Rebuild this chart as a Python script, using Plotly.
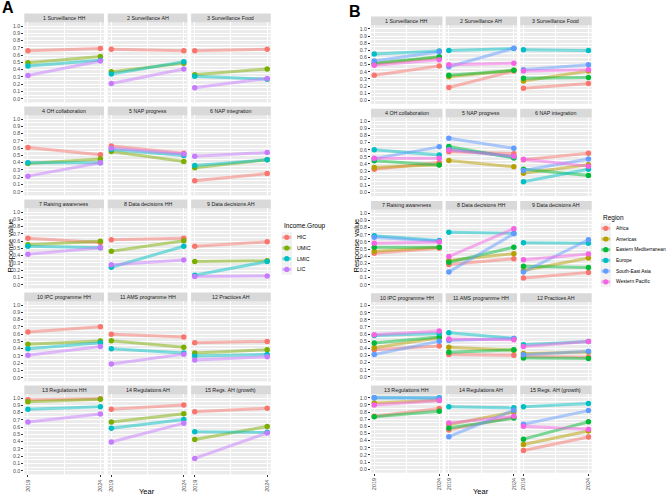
import plotly.graph_objects as go

W, H = 669, 496

facet_titles = ["1 Surveillance HH", "2 Surveillance AH", "3 Surveillance Food",
                "4 OH collaboration", "5 NAP progress", "6 NAP integration",
                "7 Raising awareness", "8 Data decisions HH", "9 Data decisions AH",
                "10 IPC programme HH", "11 AMS programme HH", "12 Practices AH",
                "13 Regulations HH", "14 Regulations AH", "15 Regs. AH (growth)"]
years = [2019, 2024]
y_ticks = [0.0, 0.1, 0.2, 0.3, 0.4, 0.5, 0.6, 0.7, 0.8, 0.9, 1.0]

# ---- Panel A: Income group ----
income_groups = ["HIC", "UMIC", "LMIC", "LIC"]
income_colors = ["#F8766D", "#7CAE00", "#00BFC4", "#C77CFF"]
hic_2019 = [0.66, 0.68, 0.66, 0.61, 0.63, 0.15, 0.64, 0.62, 0.53, 0.63, 0.60, 0.48, 0.975, 0.845, 0.81]
hic_2024 = [0.69, 0.66, 0.68, 0.51, 0.53, 0.25, 0.58, 0.64, 0.59, 0.70, 0.56, 0.50, 0.99, 0.905, 0.86]
umic_2019 = [0.495, 0.37, 0.33, 0.39, 0.555, 0.33, 0.55, 0.46, 0.32, 0.46, 0.51, 0.34, 0.95, 0.67, 0.43]
umic_2024 = [0.58, 0.49, 0.41, 0.45, 0.415, 0.44, 0.60, 0.605, 0.33, 0.505, 0.42, 0.385, 0.985, 0.785, 0.61]
lmic_2019 = [0.45, 0.34, 0.31, 0.40, 0.58, 0.36, 0.53, 0.24, 0.13, 0.40, 0.40, 0.30, 0.845, 0.585, 0.535]
lmic_2024 = [0.53, 0.51, 0.27, 0.40, 0.50, 0.44, 0.51, 0.53, 0.32, 0.48, 0.34, 0.32, 0.88, 0.705, 0.53]
lic_2019 = [0.32, 0.21, 0.15, 0.215, 0.60, 0.49, 0.42, 0.275, 0.115, 0.31, 0.19, 0.245, 0.67, 0.395, 0.17]
lic_2024 = [0.52, 0.41, 0.28, 0.40, 0.52, 0.54, 0.51, 0.34, 0.12, 0.43, 0.325, 0.29, 0.78, 0.655, 0.52]
income_values = [(hic_2019, hic_2024), (umic_2019, umic_2024), (lmic_2019, lmic_2024), (lic_2019, lic_2024)]

# ---- Panel B: Region ----
regions = ["Africa", "Americas", "Eastern Mediterranean", "Europe", "South-East Asia", "Western Pacific"]
region_colors = ["#F8766D", "#B79F00", "#00BA38", "#00BFC4", "#619CFF", "#F564E3"]
africa_2019 = [0.35, 0.18, 0.17, 0.325, 0.57, 0.46, 0.44, 0.285, 0.095, 0.38, 0.315, 0.29, 0.74, 0.55, 0.26]
africa_2024 = [0.48, 0.41, 0.235, 0.42, 0.545, 0.55, 0.51, 0.365, 0.17, 0.435, 0.305, 0.28, 0.85, 0.73, 0.45]
americas_2019 = [0.51, 0.33, 0.27, 0.35, 0.45, 0.27, 0.47, 0.34, 0.20, 0.41, 0.415, 0.33, 0.925, 0.625, 0.345]
americas_2024 = [0.60, 0.42, 0.41, 0.39, 0.36, 0.39, 0.525, 0.435, 0.375, 0.55, 0.375, 0.35, 0.965, 0.80, 0.535]
emed_2019 = [0.52, 0.35, 0.31, 0.445, 0.645, 0.325, 0.525, 0.315, 0.26, 0.475, 0.345, 0.265, 0.735, 0.575, 0.42]
emed_2024 = [0.61, 0.42, 0.32, 0.385, 0.485, 0.24, 0.525, 0.525, 0.24, 0.56, 0.38, 0.26, 0.81, 0.715, 0.665]
europe_2019 = [0.65, 0.70, 0.71, 0.60, 0.61, 0.15, 0.685, 0.735, 0.59, 0.58, 0.62, 0.45, 1.0, 0.875, 0.875]
europe_2024 = [0.69, 0.725, 0.70, 0.525, 0.50, 0.325, 0.62, 0.72, 0.58, 0.61, 0.54, 0.495, 1.0, 0.86, 0.92]
sea_2019 = [0.55, 0.47, 0.43, 0.475, 0.76, 0.31, 0.665, 0.18, 0.18, 0.315, 0.51, 0.31, 1.0, 0.455, 0.63]
sea_2024 = [0.68, 0.73, 0.50, 0.64, 0.62, 0.47, 0.61, 0.715, 0.63, 0.50, 0.54, 0.36, 0.995, 0.825, 0.82]
wpac_2019 = [0.49, 0.50, 0.41, 0.48, 0.595, 0.465, 0.58, 0.395, 0.35, 0.59, 0.53, 0.425, 0.90, 0.645, 0.60]
wpac_2024 = [0.57, 0.52, 0.43, 0.48, 0.51, 0.37, 0.60, 0.785, 0.43, 0.645, 0.52, 0.495, 0.96, 0.74, 0.56]
region_values = [(africa_2019, africa_2024), (americas_2019, americas_2024), (emed_2019, emed_2024),
                 (europe_2019, europe_2024), (sea_2019, sea_2024), (wpac_2019, wpac_2024)]

FONT = "Liberation Sans, Arial, sans-serif"


def fx(px):
    return px / W


def fy(py):
    return 1 - py / H


def rgba(hexc, a):
    hexc = hexc.lstrip("#")
    r, g, b = int(hexc[0:2], 16), int(hexc[2:4], 16), int(hexc[4:6], 16)
    return f"rgba({r},{g},{b},{a})"


panels = [
    dict(label="A", groups=income_groups, colors=income_colors, values=income_values,
         x0=24.3, dx=83.4, w=79.7, y0=22.4, dy=93.0, h=80.0,
         label_xy=(8, 8), ytitle_x=9.5, xtitle_x=147,
         leg_title="Income.Group", leg_x=281.5, leg_title_y=226, leg_y0=237.3, leg_dy=10.7,
         leg_font=5.3),
    dict(label="B", groups=regions, colors=region_colors, values=region_values,
         x0=371.0, dx=74.6, w=71.5, y0=25.4, dy=92.2, h=78.5,
         label_xy=(355, 11), ytitle_x=355.5, xtitle_x=481,
         leg_title="Region", leg_x=600.5, leg_title_y=217.5, leg_y0=228.3, leg_dy=10.7,
         leg_font=4.9),
]

fig = go.Figure()
layout = dict(width=W, height=H, margin=dict(l=0, r=0, t=0, b=0),
              paper_bgcolor="white", plot_bgcolor="#EBEBEB", showlegend=False,
              font=dict(family=FONT))
shapes = []
annotations = []
line_traces = []
point_traces = []

n = 0
for p in panels:
    for k, title in enumerate(facet_titles):
        n += 1
        r, c = k // 3, k % 3
        px0 = p["x0"] + c * p["dx"]
        px1 = px0 + p["w"]
        py0 = p["y0"] + r * p["dy"]
        py1 = py0 + p["h"]
        xname = "x" if n == 1 else f"x{n}"
        yname = "y" if n == 1 else f"y{n}"
        xkey = "xaxis" if n == 1 else f"xaxis{n}"
        ykey = "yaxis" if n == 1 else f"yaxis{n}"
        bottom = (r == 4)
        left = (c == 0)
        layout[xkey] = dict(domain=[fx(px0), fx(px1)], anchor=yname, range=[2018.75, 2024.25],
                            tickmode="array", tickvals=years, ticktext=[str(v) for v in years],
                            showgrid=True, gridcolor="white", gridwidth=0.7,
                            minor=dict(tickmode="array", tickvals=[2021.5], showgrid=True,
                                       gridcolor="white", gridwidth=0.35),
                            zeroline=False, showline=False,
                            ticks="outside" if bottom else "", ticklen=2, tickwidth=0.6, tickcolor="#333333",
                            showticklabels=bottom, tickangle=-90,
                            tickfont=dict(size=5.5, color="#4D4D4D", family=FONT))
        layout[ykey] = dict(domain=[fy(py1), fy(py0)], anchor=xname, range=[-0.05, 1.05],
                            tickmode="array", tickvals=y_ticks, ticktext=[f"{v:.1f}" for v in y_ticks],
                            showgrid=True, gridcolor="white", gridwidth=0.7,
                            minor=dict(dtick=0.05, tick0=0, showgrid=True, gridcolor="white", gridwidth=0.35),
                            zeroline=False, showline=False,
                            ticks="outside" if left else "", ticklen=2, tickwidth=0.6, tickcolor="#333333",
                            showticklabels=left,
                            tickfont=dict(size=5.2, color="#4D4D4D", family=FONT))
        # strip
        shapes.append(dict(type="rect", xref="paper", yref="paper",
                           x0=fx(px0), x1=fx(px1), y0=fy(py0), y1=fy(py0 - 8.8),
                           fillcolor="#D9D9D9", line=dict(width=0), layer="below"))
        annotations.append(dict(text=title, xref="paper", yref="paper",
                                x=fx((px0 + px1) / 2), y=fy(py0 - 4.4), showarrow=False,
                                xanchor="center", yanchor="middle",
                                font=dict(size=5.3, color="#1A1A1A", family=FONT)))
        for g, (grp, col) in enumerate(zip(p["groups"], p["colors"])):
            v19, v24 = p["values"][g]
            yv = [v19[k], v24[k]]
            line_traces.append(go.Scatter(x=years, y=yv, xaxis=xname, yaxis=yname, mode="lines",
                                          line=dict(color=rgba(col, 0.5), width=3),
                                          hoverinfo="skip", name=grp))
            point_traces.append(go.Scatter(x=years, y=yv, xaxis=xname, yaxis=yname, mode="markers",
                                           marker=dict(color=col, size=5.5, line=dict(width=0)),
                                           name=grp))

    # panel letter
    annotations.append(dict(text=f"<b>{p['label']}</b>", xref="paper", yref="paper",
                            x=fx(p["label_xy"][0]), y=fy(p["label_xy"][1]), showarrow=False,
                            xanchor="center", yanchor="middle",
                            font=dict(size=16, color="black", family=FONT)))
    # axis titles
    annotations.append(dict(text="Response value", xref="paper", yref="paper",
                            x=fx(p["ytitle_x"]), y=fy(246), showarrow=False, textangle=-90,
                            xanchor="center", yanchor="middle",
                            font=dict(size=7.5, color="black", family=FONT)))
    annotations.append(dict(text="Year", xref="paper", yref="paper",
                            x=fx(p["xtitle_x"]), y=fy(491.5), showarrow=False,
                            xanchor="center", yanchor="middle",
                            font=dict(size=7.5, color="black", family=FONT)))
    # legend
    annotations.append(dict(text=p["leg_title"], xref="paper", yref="paper",
                            x=fx(p["leg_x"]), y=fy(p["leg_title_y"]), showarrow=False,
                            xanchor="left", yanchor="middle",
                            font=dict(size=6.5, color="black", family=FONT)))
    ng = len(p["groups"])
    kx0 = p["leg_x"]
    kx1 = kx0 + 10.5
    shapes.append(dict(type="rect", xref="paper", yref="paper",
                       x0=fx(kx0), x1=fx(kx1),
                       y0=fy(p["leg_y0"] - p["leg_dy"] / 2),
                       y1=fy(p["leg_y0"] + (ng - 0.5) * p["leg_dy"]),
                       fillcolor="#F2F2F2", line=dict(width=0)))
    for g, (grp, col) in enumerate(zip(p["groups"], p["colors"])):
        yc = p["leg_y0"] + g * p["leg_dy"]
        shapes.append(dict(type="line", xref="paper", yref="paper",
                           x0=fx(kx0 + 0.8), x1=fx(kx1 - 0.8), y0=fy(yc), y1=fy(yc),
                           line=dict(color=rgba(col, 0.5), width=3)))
        rr = 2.6
        xc = (kx0 + kx1) / 2
        shapes.append(dict(type="circle", xref="paper", yref="paper",
                           x0=fx(xc - rr), x1=fx(xc + rr), y0=fy(yc + rr), y1=fy(yc - rr),
                           fillcolor=col, line=dict(width=0)))
        annotations.append(dict(text=grp, xref="paper", yref="paper",
                                x=fx(kx1 + 2.5), y=fy(yc), showarrow=False,
                                xanchor="left", yanchor="middle",
                                font=dict(size=p["leg_font"], color="black", family=FONT)))

for t in line_traces:
    fig.add_trace(t)
for t in point_traces:
    fig.add_trace(t)

layout["shapes"] = shapes
layout["annotations"] = annotations
fig.update_layout(**layout)
fig.write_html("out.html")
